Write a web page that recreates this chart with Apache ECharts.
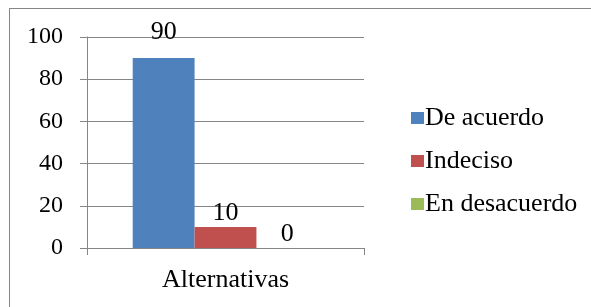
<!DOCTYPE html>
<html>
<head>
<meta charset="utf-8">
<script src="https://cdn.jsdelivr.net/npm/echarts@6/dist/echarts.min.js"></script>
<style>
  html, body { margin: 0; padding: 0; background: #fff; }
  #chart { width: 591px; height: 307px; }
</style>
</head>
<body>
<div id="chart"></div>
<script>
var categories = ['Alternativas'];
var seriesNames = ['De acuerdo', 'Indeciso', 'En desacuerdo'];
var seriesValues = [[90], [10], [0]];
var seriesColors = ['#4F81BD', '#C0504D', '#9BBB59'];
var yTicks = { min: 0, max: 100, interval: 20 };

var chart = echarts.init(document.getElementById('chart'));
var font = 'Liberation Serif, Times New Roman, serif';
// the first label sits a bit higher than the others in the original
var labelDistance = [13, 1, 1];

var series = seriesNames.map(function (name, i) {
    return {
        name: name,
        type: 'bar',
        data: seriesValues[i],
        barGap: '0%',
        barCategoryGap: '33%',
        itemStyle: { color: seriesColors[i] },
        label: {
            show: true,
            position: 'top',
            distance: labelDistance[i],
            color: '#000',
            fontFamily: font,
            fontSize: 26
        }
    };
});

var option = {
    animation: false,
    textStyle: { fontFamily: font },
    grid: { left: 87, right: 227, top: 37, bottom: 59 },
    legend: {
        orient: 'vertical',
        left: 406,
        top: 100,
        itemWidth: 13,
        itemHeight: 12,
        itemGap: 17,
        icon: 'rect',
        textStyle: { fontFamily: font, fontSize: 26, lineHeight: 26, color: '#000', padding: [0, 0, 0, -4] },
        data: seriesNames
    },
    xAxis: {
        type: 'category',
        data: categories,
        axisLine: { lineStyle: { color: '#868686', width: 1 } },
        axisTick: { show: true, length: 7, alignWithLabel: false, lineStyle: { color: '#868686' } },
        axisLabel: { color: '#000', fontFamily: font, fontSize: 26, margin: 19 }
    },
    yAxis: {
        type: 'value',
        min: yTicks.min,
        max: yTicks.max,
        interval: yTicks.interval,
        axisLine: { show: true, lineStyle: { color: '#868686' } },
        axisTick: { show: true, length: 7, lineStyle: { color: '#868686' } },
        splitLine: { lineStyle: { color: '#868686', width: 1 } },
        axisLabel: { color: '#000', fontFamily: font, fontSize: 24, margin: 24 }
    },
    graphic: [
        { type: 'line', shape: { x1: 9, y1: 8.5, x2: 591, y2: 8.5 }, style: { stroke: '#868686', lineWidth: 1 } },
        { type: 'line', shape: { x1: 9.5, y1: 8.5, x2: 9.5, y2: 307 }, style: { stroke: '#868686', lineWidth: 1 } }
    ],
    series: series
};

chart.setOption(option);
window.onresize = chart.resize;
</script>
</body>
</html>
